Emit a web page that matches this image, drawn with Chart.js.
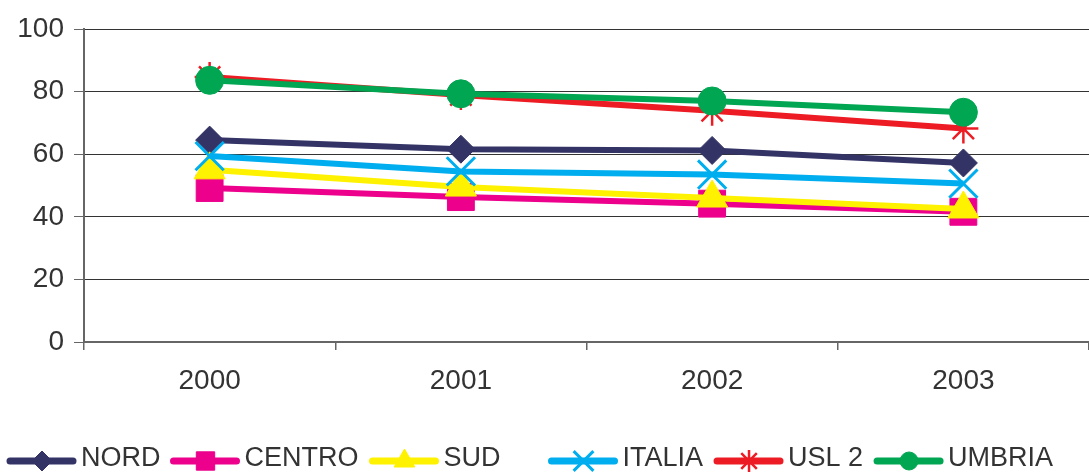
<!DOCTYPE html>
<html lang="it">
<head>
<meta charset="UTF-8">
<title>Grafico</title>
<script src="https://cdn.jsdelivr.net/npm/chart.js"></script>
<style>
  html, body { margin: 0; padding: 0; background: #fff; }
  .grafico { width: 1089px; height: 472px; }
</style>
</head>
<body>
<div class="grafico"><canvas id="grafico"></canvas></div>
<script>
// dati
const anni = ['2000', '2001', '2002', '2003'];
const nord = [64.5, 61.6, 61.2, 57.2];
const centro = [49.2, 46.3, 44.2, 41.6];
const sud = [55.0, 49.5, 46.0, 42.5];
const italia = [59.4, 54.5, 53.5, 50.6];
const usl2 = [84.7, 78.9, 73.9, 68.2];
const umbria = [83.6, 79.3, 77.0, 73.4];
const tickY = [0, 20, 40, 60, 80, 100];

const FONT = 'Liberation Sans, Arial, sans-serif';

// stile delle serie
const serie = [
    { label: 'NORD', data: nord, colore: '#333366', punto: 'rectRot', r: 14, rl: 10, bordo: 1 },
    { label: 'CENTRO', data: centro, colore: '#EC008C', punto: 'rect', r: 19, rl: 13, bordo: 1 },
    { label: 'SUD', data: sud, colore: '#FFF200', punto: 'triangle', r: 18, rl: 12, bordo: 1 },
    { label: 'ITALIA', data: italia, colore: '#00AEEF', punto: 'crossRot', r: 20, rl: 14, bordo: 3 },
    { label: 'USL 2', data: usl2, colore: '#ED1C24', punto: 'star', r: 15, rl: 11, bordo: 2.5 },
    { label: 'UMBRIA', data: umbria, colore: '#00A651', punto: 'circle', r: 14, rl: 9, bordo: 1 }
];

// spazio dopo ogni voce della legenda (come in Excel, dopo SUD è più largo)
const spaziLegenda = [10, 11, 48, 11, 11, 0];

// legenda disegnata a mano: linea + simbolo + testo
const legendaExcel = {
    id: 'legendaExcel',
    afterDraw: function (chart) {
        const ctx = chart.ctx;
        const y = 461;
        let x = 7;
        ctx.save();
        ctx.font = '27px ' + FONT;
        ctx.textBaseline = 'middle';
        ctx.textAlign = 'left';
        serie.forEach(function (s, i) {
            ctx.strokeStyle = s.colore;
            ctx.fillStyle = s.colore;
            ctx.lineCap = 'round';
            ctx.lineWidth = 7;
            ctx.beginPath();
            ctx.moveTo(x + 3, y);
            ctx.lineTo(x + 66, y);
            ctx.stroke();
            ctx.lineCap = 'butt';
            ctx.lineWidth = s.bordo;
            Chart.helpers.drawPoint(ctx, { pointStyle: s.punto, radius: s.rl, rotation: 0, borderWidth: s.bordo }, x + 35, y);
            x += 74;
            ctx.fillStyle = '#333333';
            ctx.fillText(s.label, x, y - 2);
            x += ctx.measureText(s.label).width + spaziLegenda[i];
        });
        ctx.restore();
    }
};

const dati = {
    labels: anni,
    datasets: serie.map(function (s, i) {
        return {
            label: s.label,
            data: s.data,
            borderColor: s.colore,
            backgroundColor: s.colore,
            borderWidth: 6,
            pointStyle: s.punto,
            pointRadius: s.r,
            pointHoverRadius: s.r,
            pointBackgroundColor: s.colore,
            pointBorderColor: s.colore,
            pointBorderWidth: s.bordo,
            tension: 0,
            order: serie.length - i
        };
    })
};

const config = {
    type: 'line',
    data: dati,
    options: {
        responsive: true,
        maintainAspectRatio: false,
        animation: false,
        layout: { autoPadding: false, padding: { top: 29, right: -3, left: 0, bottom: 70 } },
        plugins: {
            tooltip: { enabled: false },
            legend: { display: false }
        },
        scales: {
            x: {
                offset: true,
                afterFit: function (scale) {
                    scale.height = 60;
                    scale.paddingLeft = 0;
                    scale.paddingRight = 0;
                },
                grid: {
                    offset: true,
                    drawOnChartArea: false,
                    drawTicks: true,
                    tickLength: 8,
                    color: '#666666',
                    lineWidth: 1.5
                },
                border: { color: '#666666', width: 2 },
                ticks: {
                    color: '#333333',
                    padding: 14,
                    font: { family: FONT, size: 28 },
                    maxRotation: 0
                }
            },
            y: {
                min: 0,
                max: 100,
                afterBuildTicks: function (scale) {
                    scale.ticks = tickY.map(function (v) { return { value: v }; });
                },
                afterFit: function (scale) { scale.width = 84; },
                grid: {
                    color: '#333333',
                    lineWidth: 1,
                    tickLength: 10,
                    tickColor: '#666666'
                },
                border: { color: '#666666', width: 2 },
                ticks: {
                    color: '#333333',
                    padding: 10,
                    font: { family: FONT, size: 28 }
                }
            }
        }
    },
    plugins: [legendaExcel]
};

new Chart(document.getElementById('grafico'), config);
</script>
</body>
</html>
